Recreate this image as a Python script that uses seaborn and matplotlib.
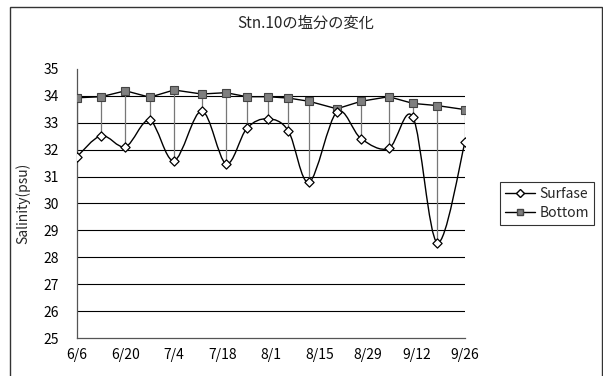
import matplotlib
matplotlib.use("Agg")
import matplotlib.pyplot as plt
import seaborn as sns
import numpy as np
import pandas as pd
from matplotlib.path import Path
from matplotlib.patches import PathPatch, Rectangle
from matplotlib.lines import Line2D

dates = ["6/6", "6/13", "6/20", "6/27", "7/4", "7/12", "7/19", "7/25", "7/31",
         "8/6", "8/12", "8/20", "8/27", "9/4", "9/11", "9/18", "9/26"]
surface = [31.74, 32.52, 32.11, 33.09, 31.59, 33.44, 31.48, 32.79, 33.15,
           32.70, 30.79, 33.40, 32.41, 32.05, 33.20, 28.54, 32.28]
bottom = [33.93, 33.97, 34.19, 33.95, 34.22, 34.07, 34.12, 33.97, 33.97,
          33.92, 33.80, 33.52, 33.80, 33.97, 33.72, 33.64, 33.49]
tick_labels = ["6/6", "6/20", "7/4", "7/18", "8/1", "8/15", "8/29", "9/12", "9/26"]
title = "Stn.10の塩分の変化"
ylabel = "Salinity(psu)"
series_names = ["Surfase", "Bottom"]


def to_day(s):
    t = pd.Timestamp("2005/" + s)
    return (t - pd.Timestamp("2005/6/6")).days


sns.set_theme(style="white")
plt.rcParams['font.family'] = ['Noto Sans CJK JP', 'DejaVu Sans']

x = np.array([to_day(d) for d in dates], dtype=float)
df = pd.DataFrame({"day": x, "Surfase": surface, "Bottom": bottom})

fig = plt.figure(figsize=(6.03, 3.76), dpi=100)
fig.patch.set_facecolor("white")
ax = fig.add_axes([77 / 603, 1 - 338 / 376, (465 - 77) / 603, (338 - 69) / 376])

# chart frame
fig.patches.append(Rectangle((10 / 603, -0.05), (602 - 10) / 603, 1.05 - 7 / 376,
                             transform=fig.transFigure, fill=False,
                             edgecolor="#333333", linewidth=1.0))

# high-low lines
ax.vlines(df["day"], df["Surfase"], df["Bottom"], color="#777777", linewidth=0.9, zorder=2)

# smoothed surface line (Bezier through points)
P = np.column_stack([df["day"].values, df["Surfase"].values])
n = len(P)
verts = [tuple(P[0])]
codes = [Path.MOVETO]
for i in range(n - 1):
    p0 = P[i - 1] if i > 0 else P[i]
    p1 = P[i]
    p2 = P[i + 1]
    p3 = P[i + 2] if i + 2 < n else P[i + 1]
    c1 = p1 + (p2 - p0) / 6.0
    c2 = p2 - (p3 - p1) / 6.0
    verts += [tuple(c1), tuple(c2), tuple(p2)]
    codes += [Path.CURVE4] * 3
ax.add_patch(PathPatch(Path(verts, codes), facecolor="none", edgecolor="black",
                       linewidth=1.0, zorder=3))

# bottom line
sns.lineplot(data=df, x="day", y="Bottom", ax=ax, color="black", linewidth=1.0,
             marker="s", markersize=5.5, markerfacecolor="#7f7f7f",
             markeredgecolor="#444444", markeredgewidth=0.8, zorder=4)
# surface markers
sns.scatterplot(data=df, x="day", y="Surfase", ax=ax, marker="D", s=22,
                facecolor="white", edgecolor="black", linewidth=0.9, zorder=5)

ax.set_xlim(0, 112)
ax.set_ylim(25, 35)
ax.set_yticks(range(25, 36))
ax.set_xticks([to_day(t) for t in tick_labels])
ax.set_xticklabels(tick_labels)
ax.tick_params(axis="both", direction="in", length=4, width=0.8, colors="#555555",
               labelcolor="black", labelsize=10, pad=7)
ax.tick_params(axis="y", pad=13)
ax.grid(axis="y", color="black", linewidth=0.8)
ax.grid(axis="x", visible=False)
gl = ax.yaxis.get_gridlines()
gl[0].set_visible(False)
gl[-1].set_visible(False)
ax.set_axisbelow(True)

for s in ["top", "right"]:
    ax.spines[s].set_visible(False)
for s in ["left", "bottom"]:
    ax.spines[s].set_color("#555555")
    ax.spines[s].set_linewidth(0.9)

ax.set_xlabel("")
ax.set_ylabel(ylabel, fontsize=10)
ax.yaxis.set_label_coords(-0.12, 0.5)

fig.text(306 / 603, 1 - 23 / 376, title, ha="center", va="center", fontsize=11)

handles = [
    Line2D([], [], color="black", linewidth=1.0, marker="D", markersize=4.5,
           markerfacecolor="white", markeredgecolor="black"),
    Line2D([], [], color="black", linewidth=1.0, marker="s", markersize=5,
           markerfacecolor="#7f7f7f", markeredgecolor="#444444"),
]
leg = fig.legend(handles, series_names, loc="upper left",
                 bbox_to_anchor=(500 / 603, 1 - 182 / 376), fontsize=10,
                 frameon=True, fancybox=False, edgecolor="black",
                 handlelength=2.2, handletextpad=0.3, borderpad=0.35,
                 labelspacing=0.35, borderaxespad=0)
leg.get_frame().set_linewidth(0.8)

fig.savefig("out.png", dpi=100, facecolor="white")
